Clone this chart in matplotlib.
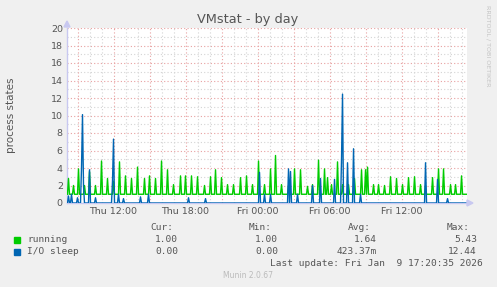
import numpy as np
import matplotlib.pyplot as plt
from matplotlib.patches import Rectangle

# time axis: hours since Thu 00:00, 5 minute samples
t_start = 8.12
t_end = 41.45
n_samples = 400

# running processes: peaks (hour, value), rest of the time at 1
run_peak_h = [8.23, 8.64, 9.08, 9.56, 10.0, 10.47, 10.98, 11.5, 12.0, 12.5,
              13.03, 13.53, 14.03, 14.56, 15.0, 15.53, 16.03, 16.53, 17.0, 17.56,
              18.03, 18.53, 19.0, 19.56, 20.06, 20.53, 21.03, 21.52, 22.02, 22.56,
              23.06, 23.56, 24.08, 24.56, 25.06, 25.5, 25.98, 26.56, 27.08, 27.6,
              28.12, 28.58, 29.06, 29.58, 29.81, 30.14, 30.62, 31.06, 31.56, 32.06,
              32.62, 33.02, 33.17, 33.67, 34.08, 34.58, 35.06, 35.6, 36.06, 36.58,
              37.06, 37.56, 38.03, 38.56, 39.06, 39.5, 40.06, 40.53, 41.03]
run_peak_v = [2.8, 2.0, 3.9, 2.0, 3.6, 2.0, 4.8, 2.8, 2.5, 4.7,
              3.1, 2.8, 4.1, 2.8, 3.1, 2.8, 4.8, 3.8, 2.1, 3.1,
              3.1, 3.1, 3.0, 2.0, 3.0, 3.8, 2.9, 2.1, 2.1, 2.9,
              3.1, 2.1, 4.8, 2.1, 3.9, 5.43, 2.1, 2.0, 3.9, 3.8,
              1.9, 2.1, 4.9, 3.9, 2.9, 2.1, 4.7, 2.1, 2.1, 2.8,
              3.8, 3.8, 4.1, 2.1, 2.1, 2.0, 3.0, 2.8, 2.1, 2.9,
              3.0, 2.1, 2.0, 2.9, 3.9, 3.9, 2.1, 2.1, 3.1]
run_base = 1.0

# I/O sleep: peaks (hour, value), rest of the time at 0
io_peak_h = [8.23, 8.48, 8.98, 9.37, 9.45, 9.53, 10.0, 10.47, 11.92, 12.0,
             12.39, 12.81, 14.23, 14.89, 18.23, 19.64, 24.14, 24.56, 25.06, 26.58,
             26.78, 27.31, 28.58, 29.25, 30.39, 31.0, 31.08, 31.52, 32.0, 32.56,
             38.02, 39.03, 39.81]
io_peak_v = [0.8, 1.0, 0.6, 4.0, 10.1, 2.0, 3.8, 0.6, 2.5, 7.3,
             1.0, 0.5, 0.7, 1.0, 0.6, 0.5, 3.5, 1.0, 1.0, 3.9,
             3.6, 1.0, 2.0, 2.8, 2.7, 5.0, 12.44, 4.6, 6.2, 1.0,
             4.6, 2.7, 0.5]
io_base = 0.0

tick_h = [12, 18, 24, 30, 36]
tick_labels = ["Thu 12:00", "Thu 18:00", "Fri 00:00", "Fri 06:00", "Fri 12:00"]

legend_names = ["running", "I/O sleep"]
legend_colors = ["#00CC00", "#0066B3"]
cur = ["1.00", "0.00"]
mins = ["1.00", "0.00"]
avgs = ["1.64", "423.37m"]
maxs = ["5.43", "12.44"]

t = t_start + (np.arange(n_samples) + 0.5) / 12.0


def series(base, peak_h, peak_v):
    ys = np.full(n_samples, base)
    for h, v in zip(peak_h, peak_v):
        i = int(round((h - t_start) * 12 - 0.5))
        if 0 <= i < n_samples:
            ys[i] = v
    return ys


running = series(run_base, run_peak_h, run_peak_v)
io = series(io_base, io_peak_h, io_peak_v)

W, H = 497, 287
fig = plt.figure(figsize=(W / 100, H / 100), dpi=100, facecolor="#F0F0F0")
ax = fig.add_axes([67 / W, (H - 203) / H, 400 / W, 175 / H])
ax.set_facecolor("white")

# grid
minor_c = "#D4D4D4"
major_c = "#E8A0A0"
for y in range(1, 21):
    ax.axhline(y, color=major_c if y % 2 == 0 else minor_c, lw=0.8,
               ls=(0, (1, 2)), zorder=1)
for h in range(9, 42):
    ax.axvline(h, color=major_c if h % 3 == 0 else minor_c, lw=0.8,
               ls=(0, (1, 2)), zorder=1)

ax.plot(t, running, color=legend_colors[0], lw=1.0, zorder=3)
ax.plot(t, io, color=legend_colors[1], lw=1.0, zorder=4)

ax.set_xlim(t_start, t_end)
ax.set_ylim(0, 20)
ax.set_yticks(range(0, 21, 2))
ax.set_xticks(tick_h)
ax.set_xticklabels(tick_labels)
ax.tick_params(length=0, labelsize=6.8, colors="#555555", pad=3)
for s in ["top", "right"]:
    ax.spines[s].set_visible(False)
for s in ["left", "bottom"]:
    ax.spines[s].set_color("#C8C8F0")
    ax.spines[s].set_linewidth(1)

# axis arrows
fig.patches.append(plt.Polygon([[64 / W, 1 - 27 / H], [70 / W, 1 - 27 / H], [67 / W, 1 - 21 / H]],
                               closed=True, transform=fig.transFigure, color="#C8C8F0"))
fig.patches.append(plt.Polygon([[467 / W, 1 - 200 / H], [467 / W, 1 - 206 / H], [473 / W, 1 - 203 / H]],
                               closed=True, transform=fig.transFigure, color="#C8C8F0"))

def fy(y):
    return 1 - y / H


fig.text(248 / W, fy(20), "VMstat - by day", ha="center", va="center",
         fontsize=9.3, color="#555555")
fig.text(11 / W, fy(115), "process states", rotation=90, ha="center",
         va="center", fontsize=7.5, color="#555555")
fig.text(488 / W, fy(5), "RRDTOOL / TOBI OETIKER", rotation=270, ha="center",
         va="top", fontsize=4.6, color="#C4C4C4")

mono = dict(family="DejaVu Sans Mono", fontsize=6.8, color="#555555", va="center")
for x, s in zip([150, 249, 348, 447], ["Cur:", "Min:", "Avg:", "Max:"]):
    fig.text(x / W, fy(227), s, ha="left", **mono)
for row, name in enumerate(legend_names):
    y = 240 + 12 * row
    fig.patches.append(Rectangle((14 / W, fy(y + 3)), 6 / W, 6 / H,
                                 transform=fig.transFigure, color=legend_colors[row]))
    fig.text(27 / W, fy(y), name, ha="left", **mono)
    for x, col in zip([178, 278, 377, 477], [cur, mins, avgs, maxs]):
        fig.text(x / W, fy(y), col[row], ha="right", **mono)
fig.text(483 / W, fy(264), "Last update: Fri Jan  9 17:20:35 2026", ha="right", **mono)
fig.text(248 / W, fy(276), "Munin 2.0.67", ha="center", va="center",
         fontsize=5.5, color="#BBBBBB")

fig.savefig("out.png", dpi=100, facecolor=fig.get_facecolor())
